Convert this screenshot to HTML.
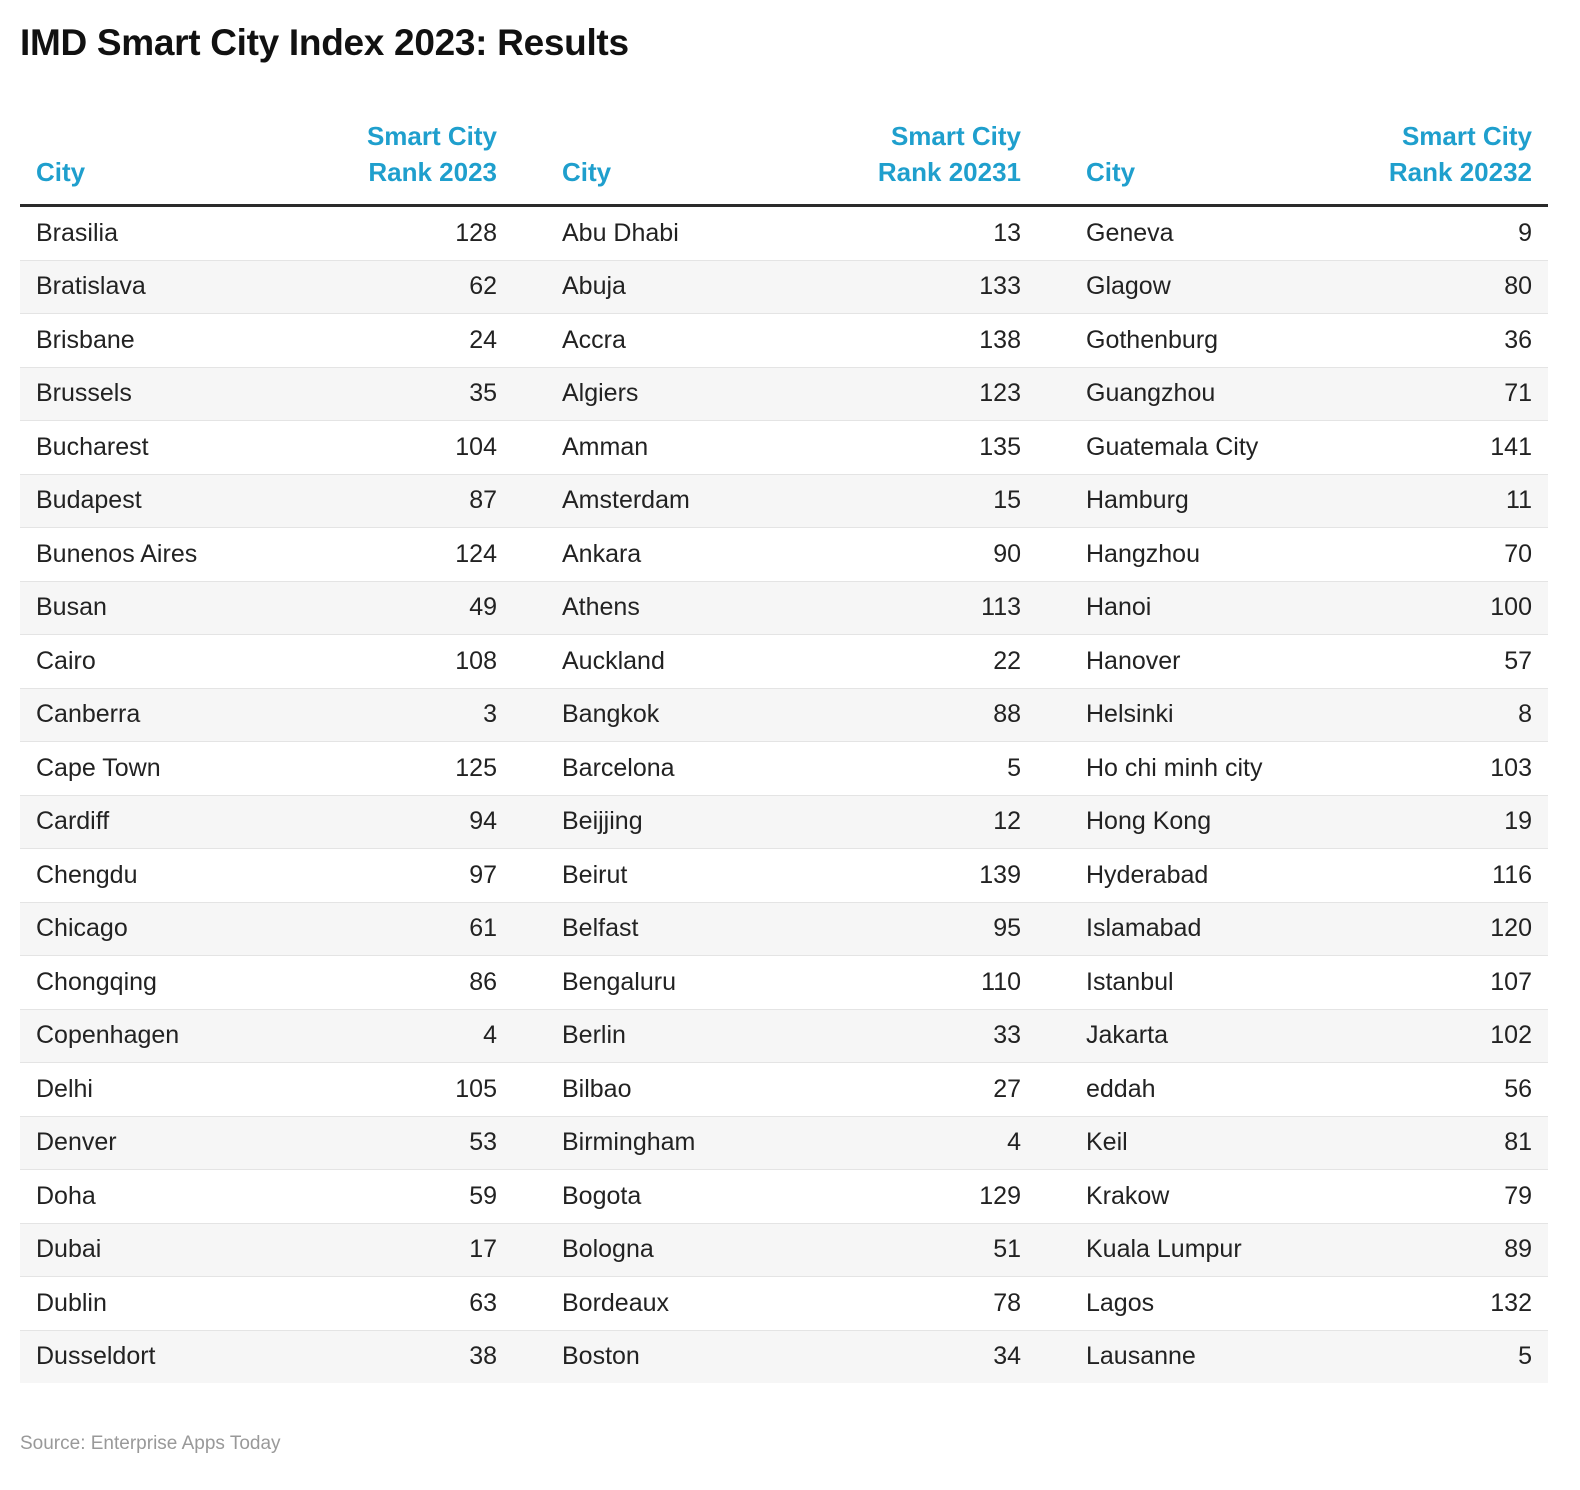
<!DOCTYPE html>
<html><head><meta charset="utf-8">
<style>
html,body{margin:0;padding:0;background:#fff;}
body{width:1580px;height:1490px;position:relative;font-family:"Liberation Sans",Arial,sans-serif;color:#222;overflow:hidden;}
#title{position:absolute;left:20px;top:22px;font-size:37px;font-weight:bold;color:#111;letter-spacing:-0.3px;}
table{position:absolute;left:20px;top:118px;border-collapse:collapse;table-layout:fixed;width:1528px;}
th{color:#1f9fcd;font-weight:bold;font-size:26px;line-height:36px;vertical-align:bottom;padding:0 0 14px 0;border-bottom:3px solid #2a2a2a;}
td{font-size:25px;height:52.5px;padding:0;border-top:1px solid #e4e4e4;}
tbody tr:first-child td{border-top:none;}
tbody tr:nth-child(even){background:#f6f6f6;}
.c{text-align:left;}
.r{text-align:right;padding-right:16px;}
.c1{padding-left:16px;}
.c2,.c3{padding-left:49px;}
#source{position:absolute;left:20px;top:1433px;font-size:19px;color:#999;}
</style></head>
<body>
<div id="title">IMD Smart City Index 2023: Results</div>
<table>
<colgroup><col style="width:310px"><col style="width:183px"><col style="width:287px"><col style="width:237px"><col style="width:263px"><col style="width:248px"></colgroup>
<thead><tr>
<th class="c c1">City</th>
<th class="r">Smart City<br>Rank 2023</th>
<th class="c c2">City</th>
<th class="r">Smart City<br>Rank 20231</th>
<th class="c c3">City</th>
<th class="r">Smart City<br>Rank 20232</th>
</tr></thead>
<tbody id="tb"></tbody>
</table>
<div id="source">Source: Enterprise Apps Today</div>
<script>
const cities1=["Brasilia","Bratislava","Brisbane","Brussels","Bucharest","Budapest","Bunenos Aires","Busan","Cairo","Canberra","Cape Town","Cardiff","Chengdu","Chicago","Chongqing","Copenhagen","Delhi","Denver","Doha","Dubai","Dublin","Dusseldort"];
const ranks1=[128,62,24,35,104,87,124,49,108,3,125,94,97,61,86,4,105,53,59,17,63,38];
const cities2=["Abu Dhabi","Abuja","Accra","Algiers","Amman","Amsterdam","Ankara","Athens","Auckland","Bangkok","Barcelona","Beijjing","Beirut","Belfast","Bengaluru","Berlin","Bilbao","Birmingham","Bogota","Bologna","Bordeaux","Boston"];
const ranks2=[13,133,138,123,135,15,90,113,22,88,5,12,139,95,110,33,27,4,129,51,78,34];
const cities3=["Geneva","Glagow","Gothenburg","Guangzhou","Guatemala City","Hamburg","Hangzhou","Hanoi","Hanover","Helsinki","Ho chi minh city","Hong Kong","Hyderabad","Islamabad","Istanbul","Jakarta","eddah","Keil","Krakow","Kuala Lumpur","Lagos","Lausanne"];
const ranks3=[9,80,36,71,141,11,70,100,57,8,103,19,116,120,107,102,56,81,79,89,132,5];
const tb=document.getElementById('tb');
for(let i=0;i<cities1.length;i++){
  const tr=document.createElement('tr');
  
  
  const vals=[[cities1[i],'c c1'],[ranks1[i],'r'],[cities2[i],'c c2'],[ranks2[i],'r'],[cities3[i],'c c3'],[ranks3[i],'r']];
  vals.forEach((v,j)=>{
    const td=document.createElement('td');
    td.className=v[1];
    td.textContent=v[0];
    
    
    tr.appendChild(td);
  });
  tb.appendChild(tr);
}
</script>
</body></html>
